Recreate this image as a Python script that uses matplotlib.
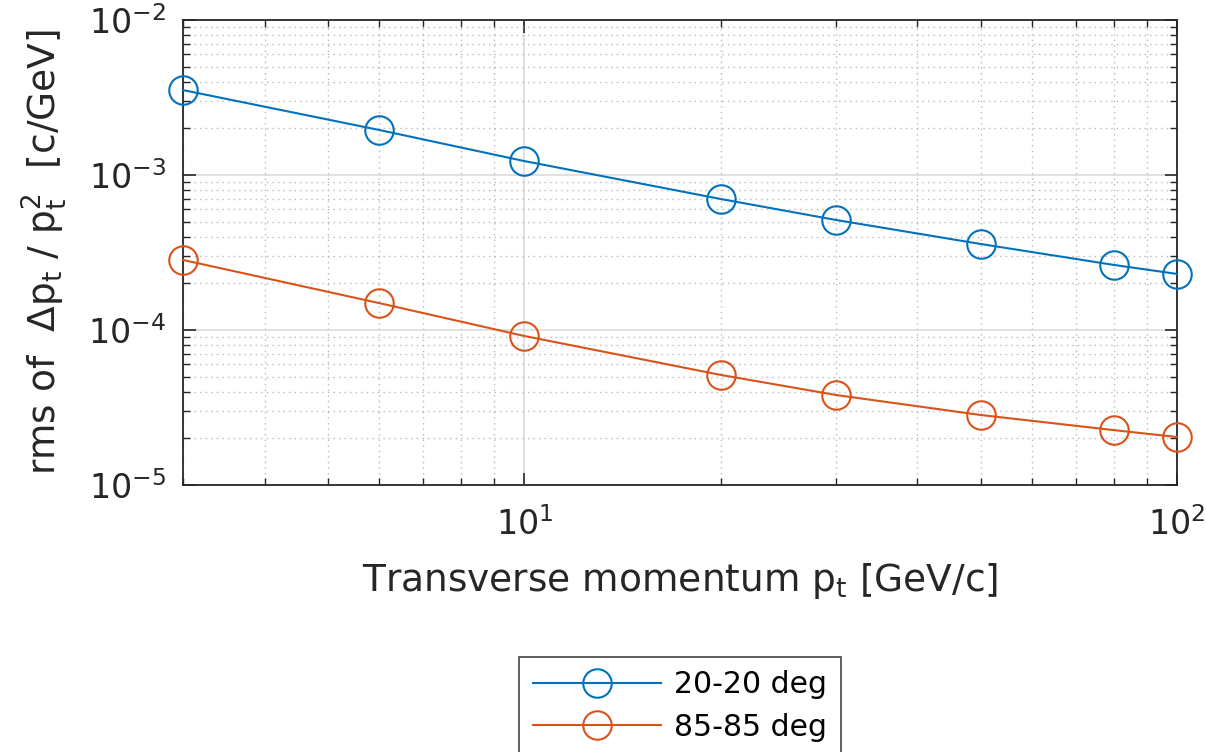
import matplotlib
matplotlib.use('Agg')
import matplotlib.pyplot as plt
import numpy as np

plt.rcParams['font.family'] = ['DejaVu Sans']
plt.rcParams['mathtext.fontset'] = 'dejavusans'
plt.rcParams['mathtext.default'] = 'regular'

pt = [3, 6, 10, 20, 30, 50, 80, 100]
res_20 = [3.53e-3, 1.95e-3, 1.23e-3, 7.0e-4, 5.13e-4, 3.59e-4, 2.63e-4, 2.30e-4]
res_85 = [2.83e-4, 1.49e-4, 9.15e-5, 5.13e-5, 3.81e-5, 2.83e-5, 2.26e-5, 2.04e-5]
labels = ['20-20 deg', '85-85 deg']

fig = plt.figure(figsize=(12.06, 7.52), dpi=100)
ax = fig.add_axes([183/1206, 1 - 485/752, (1177 - 183)/1206, (485 - 20)/752])

ax.loglog(pt, res_20, '-o', color='#0072BD', lw=1.5, ms=20.5, mfc='none', mew=1.5,
          label=labels[0], clip_on=False, zorder=3)
ax.loglog(pt, res_85, '-o', color='#D95319', lw=1.5, ms=20.5, mfc='none', mew=1.5,
          label=labels[1], clip_on=False, zorder=3)

ax.set_xlim(3, 100)
ax.set_ylim(1e-5, 1e-2)

ax.grid(True, which='major', color='#dcdcdc', lw=1.2, ls='-')
ax.grid(True, which='minor', color='#b8b8b8', lw=1.0, ls=(0, (1, 3)))
ax.set_axisbelow(True)

ax.tick_params(which='both', direction='in', top=True, right=True,
               labelsize=24, colors='#262626')
ax.tick_params(which='major', length=9, width=1.2)
ax.tick_params(which='minor', length=5, width=1.0)
ax.tick_params(axis='x', which='major', pad=16)
ax.tick_params(axis='y', which='major', pad=12)
for s in ax.spines.values():
    s.set_color('#262626')
    s.set_linewidth(1.3)

ax.set_xlabel(r'Transverse momentum p$_{t}$ [GeV/c]', fontsize=27, color='#262626',
              labelpad=14)
ax.set_ylabel(r'rms of  $\Delta$p$_{t}$ / p$_{t}^{2}$  [c/GeV]', fontsize=27,
              color='#262626', labelpad=14)

leg = ax.legend(loc='upper center', bbox_to_anchor=(0.5, -0.37), fontsize=21.5,
                frameon=True, fancybox=False, edgecolor='#262626', handlelength=4.3,
                handletextpad=0.45, borderpad=0.45, labelspacing=0.45,
                borderaxespad=0)
leg.get_frame().set_linewidth(1.3)

fig.savefig('out.png', dpi=100)
